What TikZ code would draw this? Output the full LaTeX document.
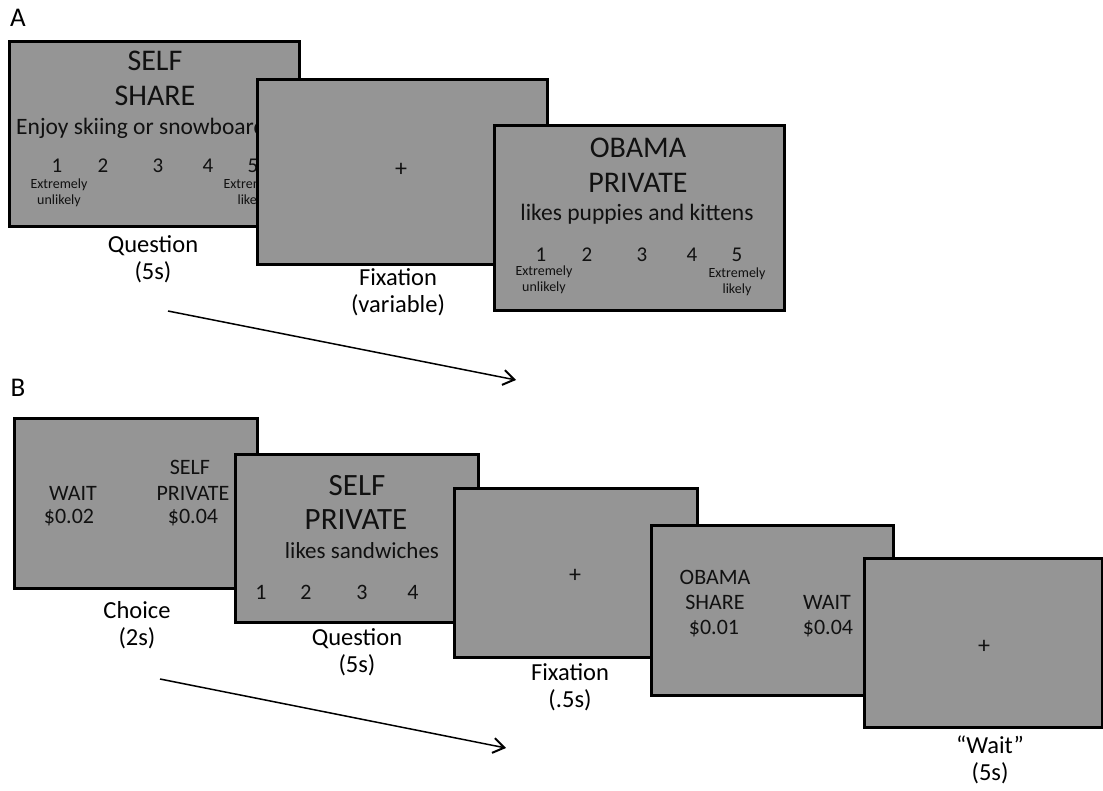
\documentclass[tikz,border=0pt]{standalone}
\usepackage{fontspec}
\setmainfont{Carlito}
\usetikzlibrary{arrows.meta}
\definecolor{screengray}{HTML}{959595}
\definecolor{inkdark}{HTML}{111111}

\begin{document}
\begin{tikzpicture}[
    x=1pt,y=-1pt,
    screen/.style={draw=black,line width=3pt,fill=screengray,anchor=north west,
                   minimum width=#1,minimum height=185pt,inner sep=0pt},
    screen/.default=290pt,
    txt/.style={text=inkdark,inner sep=0pt,font=\fontsize{22}{24}\selectfont},
    big/.style={txt,font=\fontsize{30}{32}\selectfont},
    tiny/.style={txt,font=\fontsize{14}{16}\selectfont,align=center},
    lab/.style={text=black,inner sep=0pt,align=center,font=\fontsize{24.5}{27}\selectfont},
    panel/.style={inner sep=0pt,font=\fontsize{27}{28}\selectfont},
    flow/.style={-{Straight Barb[length=11pt,width=15pt,line width=2pt]},line width=1.5pt}
  ]
    \useasboundingbox (0,0) rectangle (1103,790);

    % --- A ---
    \node[panel] (pa) at (18,18) {A};

    \node[screen] (a1) at (8,40) {};
    \node[big] (a1who) at (155,61) {SELF};
    \node[big] (a1how) at (155,96) {SHARE};
    \node[txt,anchor=west,font=\fontsize{23.5}{25}\selectfont] (a1q) at (16,128) {Enjoy skiing or snowboarding};
    \foreach \n/\xx in {1/57,2/103,3/158,4/208,5/253}
      \node[txt,font=\fontsize{21}{23}\selectfont] (a1n\n) at (\xx,166) {\n};
    \node[tiny] (a1lo) at (59,193) {Extremely\\unlikely};
    \node[tiny] (a1hi) at (252,193) {Extremely\\likely};
    \node[lab] (a1lab) at (153,259) {Question\\(5s)};

    \node[screen] (a2) at (256,78) {};
    \node[txt,font=\fontsize{24}{26}\selectfont] (a2fix) at (401,170) {+};
    \node[lab] (a2lab) at (398,292) {Fixation\\(variable)};

    \node[screen] (a3) at (493,124) {};
    \node[big] (a3who) at (638,148) {OBAMA};
    \node[big] (a3how) at (638,183) {PRIVATE};
    \node[txt,font=\fontsize{23.5}{25}\selectfont] (a3q) at (637,214) {likes puppies and kittens};
    \foreach \n/\xx in {1/541,2/587,3/642,4/692,5/737}
      \node[txt,font=\fontsize{21}{23}\selectfont] (a3n\n) at (\xx,255) {\n};
    \node[tiny] (a3lo) at (544,280) {Extremely\\unlikely};
    \node[tiny] (a3hi) at (737,282) {Extremely\\likely};

    \coordinate (ta0) at (168,311);
    \coordinate (ta1) at (516,380);
    \draw[flow] (ta0) -- (ta1);

    % --- B ---
    \node[panel] (pb) at (18,388) {B};

    \node[screen=243pt,minimum height=170pt] (b1) at (13,417) {};
    \node[txt] (b1w) at (73,493) {WAIT};
    \node[txt] (b1wc) at (69,518) {\$0.02};
    \node[txt] (b1s) at (190,467) {SELF};
    \node[txt] (b1sp) at (193,493) {PRIVATE};
    \node[txt] (b1sc) at (193,518) {\$0.04};
    \node[lab] (b1lab) at (137,625) {Choice\\(2s)};

    \node[screen=243pt,minimum height=168pt] (b2) at (234,453) {};
    \node[big,font=\fontsize{31}{33}\selectfont] (b2who) at (357,486) {SELF};
    \node[big,font=\fontsize{31}{33}\selectfont] (b2how) at (356,520) {PRIVATE};
    \node[txt,font=\fontsize{23}{25}\selectfont] (b2q) at (362,551) {likes sandwiches};
    \foreach \n/\xx in {1/261,2/306,3/362,4/413}
      \node[txt] (b2n\n) at (\xx,592) {\n};
    \node[lab] (b2lab) at (357,652) {Question\\(5s)};

    \node[screen=243pt,minimum height=169pt] (b3) at (453,487) {};
    \node[txt,font=\fontsize{24}{26}\selectfont] (b3fix) at (575,576) {+};
    \node[lab] (b3lab) at (570,687) {Fixation\\(.5s)};

    \node[screen=242pt,minimum height=170pt] (b4) at (650,524) {};
    \node[txt] (b4o) at (715,577) {OBAMA};
    \node[txt] (b4os) at (715,602) {SHARE};
    \node[txt] (b4oc) at (714,629) {\$0.01};
    \node[txt] (b4w) at (827,602) {WAIT};
    \node[txt] (b4wc) at (828,629) {\$0.04};

    \node[screen=238pt,minimum height=169pt] (b5) at (863,557) {};
    \node[txt,font=\fontsize{24}{26}\selectfont] (b5fix) at (984,647) {+};
    \node[lab] (b5lab) at (990,760) {``Wait''\\(5s)};

    \coordinate (tb0) at (160,679);
    \coordinate (tb1) at (506,748);
    \draw[flow] (tb0) -- (tb1);
\end{tikzpicture}
\end{document}
